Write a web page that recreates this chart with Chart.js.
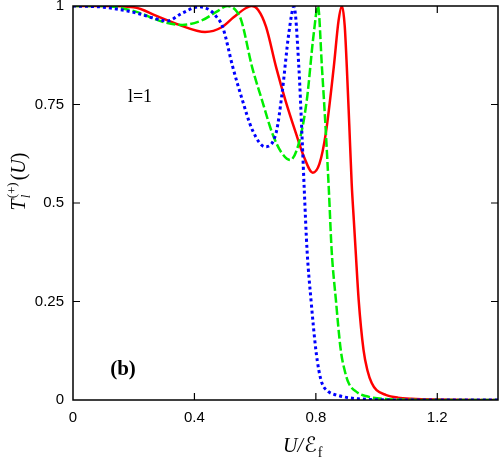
<!DOCTYPE html>
<html>
<head>
<meta charset="utf-8">
<script src="https://cdn.jsdelivr.net/npm/chart.js@4"></script>
<style>
  html, body { margin: 0; padding: 0; background: #fff; }
  #wrap { width: 499px; height: 460px; }
</style>
</head>
<body>
<div id="wrap"><canvas id="myChart" width="499" height="460"></canvas></div>
<script>
// values (U/Ef, T)
var redX = [0, 0.1, 0.2, 0.275, 0.35, 0.435, 0.49, 0.53, 0.57, 0.587, 0.61, 0.636, 0.669, 0.70, 0.734, 0.761, 0.79, 0.812, 0.833, 0.859, 0.875, 0.886, 0.895, 0.902, 0.91, 0.918, 0.925, 0.931, 0.941, 0.957, 0.97, 0.984, 1.0, 1.03, 1.07, 1.115, 1.2, 1.4];
var redY = [1, 1, 0.997, 0.975, 0.952, 0.934, 0.946, 0.972, 0.995, 1, 0.99, 0.947, 0.845, 0.76, 0.678, 0.617, 0.577, 0.6, 0.678, 0.845, 0.964, 1, 0.95, 0.845, 0.70, 0.55, 0.457, 0.38, 0.254, 0.127, 0.075, 0.043, 0.025, 0.013, 0.006, 0.003, 0.001, 0];

var greenX = [0, 0.1, 0.21, 0.295, 0.36, 0.426, 0.472, 0.508, 0.535, 0.554, 0.59, 0.623, 0.656, 0.685, 0.715, 0.744, 0.77, 0.793, 0.807, 0.82, 0.833, 0.843, 0.852, 0.866, 0.882, 0.895, 0.908, 0.935, 0.964, 1.04, 1.2, 1.4];
var greenY = [1, 1, 0.985, 0.96, 0.952, 0.964, 0.985, 1, 0.99, 0.964, 0.845, 0.76, 0.678, 0.63, 0.609, 0.652, 0.76, 0.93, 1, 0.845, 0.678, 0.53, 0.38, 0.254, 0.127, 0.075, 0.043, 0.02, 0.01, 0.002, 0, 0];

var blueX = [0, 0.1, 0.21, 0.262, 0.31, 0.36, 0.415, 0.45, 0.47, 0.493, 0.526, 0.558, 0.591, 0.633, 0.669, 0.689, 0.711, 0.728, 0.744, 0.754, 0.762, 0.771, 0.784, 0.80, 0.81, 0.82, 0.84, 0.866, 0.94, 1.1, 1.4];
var blueY = [1, 0.997, 0.982, 0.97, 0.962, 0.982, 0.998, 0.99, 0.975, 0.947, 0.846, 0.761, 0.685, 0.643, 0.678, 0.78, 0.931, 0.998, 0.845, 0.678, 0.53, 0.38, 0.254, 0.127, 0.075, 0.043, 0.022, 0.013, 0.003, 0, 0];

var xTicks = [0, 0.4, 0.8, 1.2];
var yTicks = [0, 0.25, 0.5, 0.75, 1];

function toPoints(xs, ys) {
    var pts = [];
    for (let i = 0; i < xs.length; i++) {
        pts.push({ x: xs[i], y: ys[i] });
    }
    return pts;
}

// gnuplot-like frame with inward ticks, plus the axis titles and labels
var framePlugin = {
    id: "frame",
    afterDatasetsDraw(chart) {
        var ctx = chart.ctx;
        var a = chart.chartArea;
        var sx = chart.scales.x;
        var sy = chart.scales.y;
        ctx.save();
        ctx.strokeStyle = "#000";
        ctx.lineWidth = 1.5;
        ctx.strokeRect(a.left, a.top, a.right - a.left, a.bottom - a.top);
        ctx.lineWidth = 1.2;
        ctx.beginPath();
        xTicks.forEach((v) => {
            if (v == 0) return;
            var px = sx.getPixelForValue(v);
            ctx.moveTo(px, a.bottom);
            ctx.lineTo(px, a.bottom - 7);
            ctx.moveTo(px, a.top);
            ctx.lineTo(px, a.top + 7);
        });
        yTicks.forEach((v) => {
            if (v == 0 || v == 1) return;
            var py = sy.getPixelForValue(v);
            ctx.moveTo(a.left, py);
            ctx.lineTo(a.left + 7, py);
            ctx.moveTo(a.right, py);
            ctx.lineTo(a.right - 7, py);
        });
        ctx.stroke();

        ctx.fillStyle = "#000";
        ctx.textBaseline = "alphabetic";
        // l=1
        ctx.font = "18px 'Liberation Serif', serif";
        ctx.textAlign = "center";
        ctx.fillText("l=1", 140, 102);
        // (b)
        ctx.font = "bold 21px 'Liberation Serif', serif";
        ctx.fillText("(b)", 123, 375);

        // x title: U/Ef
        ctx.textAlign = "left";
        var x0 = 283;
        ctx.font = "italic 20px 'Liberation Serif', serif";
        var wU = ctx.measureText("U/").width;
        ctx.fillText("U/", x0, 452);
        ctx.font = "21px 'DejaVu Sans', sans-serif";
        var wE = ctx.measureText("\u2130").width;
        ctx.fillText("\u2130", x0 + wU + 1, 452);
        ctx.font = "14px 'Liberation Serif', serif";
        ctx.fillText("f", x0 + wU + wE + 2, 457);

        // y title: T_l^(+)(U), rotated
        ctx.translate(18, 182);
        ctx.rotate(-Math.PI / 2);
        var big = "italic 20px 'Liberation Serif', serif";
        var small = "13px 'Liberation Serif', serif";
        ctx.font = big;
        var wT = ctx.measureText("T").width;
        ctx.font = small;
        var wS = ctx.measureText("(+)").width;
        ctx.font = big;
        var wP = ctx.measureText("(U)").width;
        var total = wT + wS + 2 + wP;
        var cx = -total / 2;
        ctx.font = big;
        ctx.fillText("T", cx, 7);
        ctx.font = small;
        ctx.fillText("(+)", cx + wT + 1, -2);
        ctx.font = "italic 13px 'Liberation Serif', serif";
        ctx.fillText("l", cx + wT + 1, 12);
        ctx.font = "20px 'Liberation Serif', serif";
        ctx.fillText("(", cx + wT + wS + 3, 7);
        var wpar = ctx.measureText("(").width;
        ctx.font = big;
        ctx.fillText("U", cx + wT + wS + 3 + wpar, 7);
        var wu = ctx.measureText("U").width;
        ctx.font = "20px 'Liberation Serif', serif";
        ctx.fillText(")", cx + wT + wS + 3 + wpar + wu, 7);
        ctx.restore();
    },
};

var ctx = document.getElementById("myChart");
var myChart = new Chart(ctx, {
    type: "scatter",
    data: {
        datasets: [
            {
                data: toPoints(blueX, blueY),
                borderColor: "#0000ff",
                borderWidth: 3,
                borderDash: [3, 3],
                showLine: true,
                pointRadius: 0,
                cubicInterpolationMode: "monotone",
            },
            {
                data: toPoints(greenX, greenY),
                borderColor: "#00ee00",
                borderWidth: 2.5,
                borderDash: [9, 3],
                showLine: true,
                pointRadius: 0,
                cubicInterpolationMode: "monotone",
            },
            {
                data: toPoints(redX, redY),
                borderColor: "#ff0000",
                borderWidth: 2.5,
                showLine: true,
                pointRadius: 0,
                cubicInterpolationMode: "monotone",
            },
        ],
    },
    options: {
        responsive: false,
        animation: false,
        layout: { padding: { top: 6, right: 1, left: 0, bottom: 0 } },
        plugins: {
            legend: { display: false },
            tooltip: { enabled: false },
        },
        scales: {
            x: {
                type: "linear",
                min: 0,
                max: 1.4,
                grid: { display: false, drawTicks: false },
                border: { display: false },
                ticks: {
                    padding: 9,
                    color: "#000",
                    font: { family: "'Liberation Sans', sans-serif", size: 15 },
                    callback: (v) => String(v),
                },
                afterBuildTicks: (scale) => {
                    scale.ticks = xTicks.map((v) => ({ value: v }));
                },
                afterFit: (scale) => {
                    scale.height = 60;
                    scale.paddingLeft = 0;
                    scale.paddingRight = 0;
                },
            },
            y: {
                type: "linear",
                min: 0,
                max: 1,
                grid: { display: false, drawTicks: false },
                border: { display: false },
                ticks: {
                    padding: 9,
                    color: "#000",
                    font: { family: "'Liberation Sans', sans-serif", size: 15 },
                    callback: (v) => String(v),
                },
                afterBuildTicks: (scale) => {
                    scale.ticks = yTicks.map((v) => ({ value: v }));
                },
                afterFit: (scale) => {
                    scale.width = 73;
                    scale.paddingTop = 0;
                    scale.paddingBottom = 0;
                },
            },
        },
    },
    plugins: [framePlugin],
});
</script>
</body>
</html>
